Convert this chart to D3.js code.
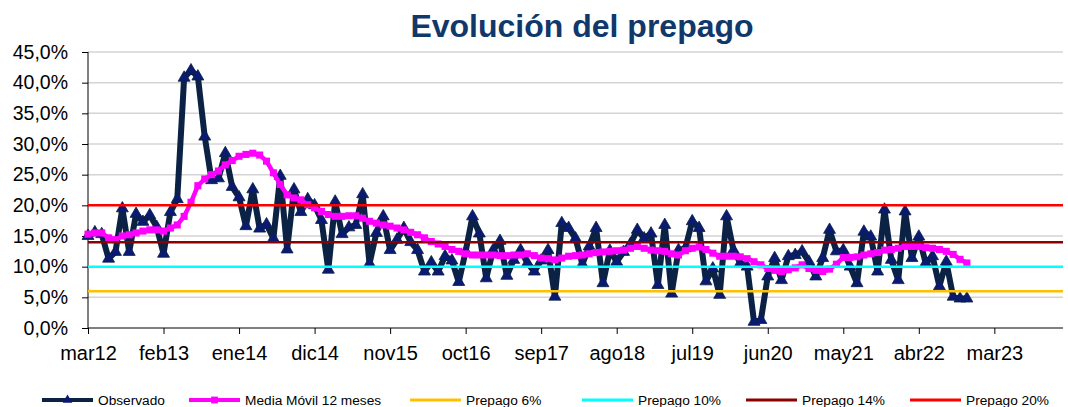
<!DOCTYPE html>
<html lang="es">
<head>
<meta charset="utf-8">
<title>Evolución del prepago</title>
<script src="https://cdn.jsdelivr.net/npm/d3@7"></script>
<style>
  body { margin: 0; background: #fff; }
  svg { font-family: "Liberation Sans", Arial, sans-serif; display: block; }
</style>
</head>
<body>
<div id="chart"></div>
<script>

// months on the category axis: mar12 .. ene24 (143 slots, data fills the first 129)
var nCategories = 143
var tickLabels = ["mar12","feb13","ene14","dic14","nov15","oct16","sep17","ago18","jul19","jun20","may21","abr22","mar23"]
var tickEvery = 11

// observed prepayment, % (mar12 .. nov22)
var observado = [
  15.0, 15.6, 15.3, 11.3, 12.4, 19.5, 12.4, 18.6, 17.3, 18.4,
  16.5, 12.1, 18.9, 21.0, 40.8, 42.0, 41.0, 31.2, 24.1, 24.4,
  28.5, 23.0, 21.3, 16.6, 22.6, 16.2, 16.9, 14.6, 24.8, 12.8,
  22.6, 18.9, 21.0, 20.0, 17.6, 9.5, 20.6, 15.3, 16.4, 16.8,
  21.8, 10.5, 15.5, 18.2, 12.7, 14.4, 16.3, 14.0, 12.7, 9.2,
  10.7, 9.2, 11.7, 11.0, 7.5, 12.5, 18.2, 15.4, 8.1, 12.7,
  14.2, 8.5, 11.1, 12.7, 10.6, 9.2, 11.0, 12.7, 5.1, 17.1,
  16.3, 14.6, 10.4, 13.3, 16.3, 7.3, 12.6, 10.8, 12.4, 13.7,
  16.0, 14.6, 15.4, 7.0, 16.8, 5.6, 12.7, 13.0, 17.4, 16.3,
  7.6, 9.7, 5.4, 18.2, 12.7, 10.6, 10.0, 1.0, 1.3, 8.4,
  11.4, 7.8, 11.7, 11.9, 12.5, 10.8, 8.4, 11.4, 16.0, 12.5,
  12.7, 10.0, 7.3, 15.7, 14.9, 9.2, 19.3, 11.1, 7.8, 19.0,
  11.4, 14.9, 10.6, 11.7, 6.8, 10.8, 5.1, 4.8, 4.8
]

// 12-month moving average, %
var mediaMovil = [
  15.3, 15.5, 15.5, 14.7, 14.4, 15.0, 15.2, 15.5, 15.8, 16.0,
  16.0, 15.8, 16.3, 16.8, 18.2, 20.5, 23.2, 24.3, 25.0, 25.6,
  26.6, 27.3, 28.0, 28.3, 28.5, 28.2, 27.2, 25.3, 23.4, 21.7,
  21.2, 20.9, 20.1, 19.6, 19.0, 18.5, 18.2, 18.2, 18.3, 18.3,
  17.9, 17.4, 17.1, 16.8, 16.6, 16.3, 16.0, 15.6, 15.2, 14.7,
  14.1, 13.7, 13.3, 12.8, 12.5, 12.1, 11.9, 11.9, 11.9, 11.9,
  11.8, 11.8, 11.9, 11.9, 12.1, 11.8, 11.4, 11.3, 11.1, 11.4,
  11.7, 11.8, 11.9, 12.1, 12.3, 12.4, 12.5, 12.6, 12.7, 13.0,
  13.3, 13.0, 12.7, 12.6, 12.5, 12.1, 11.9, 12.6, 13.0, 13.2,
  12.8, 12.2, 11.7, 11.7, 11.7, 11.6, 11.3, 10.8, 10.3, 9.7,
  9.4, 9.2, 9.5, 9.8, 10.3, 9.7, 9.4, 9.2, 9.6, 10.4,
  11.5, 11.5, 11.6, 11.9, 12.1, 12.3, 12.7, 12.8, 13.0, 13.3,
  13.3, 13.3, 13.1, 13.0, 12.8, 12.5, 12.0, 11.2, 10.6
]

// reference prepayment levels, %
var refLevels = [6, 10, 14, 20]
var refNames = ["Prepago 6%", "Prepago 10%", "Prepago 14%", "Prepago 20%"]
var refColors = ["#FFC000", "#00FFFF", "#8B0000", "#FF0000"]

var yTicks = [0, 5, 10, 15, 20, 25, 30, 35, 40, 45]

// --- layout
var width = 1068, height = 407
var plot = { left: 88, right: 1063, top: 52, bottom: 328 }

var svg = d3.select("#chart").append("svg")
    .attr("width", width)
    .attr("height", height)

var x = d3.scaleLinear()
    .domain([0, nCategories - 1])
    .range([plot.left, plot.right])

var y = d3.scaleLinear()
    .domain([0, 45])
    .range([plot.bottom, plot.top])

// title
svg.append("text")
    .attr("x", 582)
    .attr("y", 37)
    .attr("text-anchor", "middle")
    .style("font-size", "32px")
    .style("font-weight", "bold")
    .style("fill", "#10386B")
    .text("Evolución del prepago")

// gridlines
svg.append("g")
  .selectAll("line")
  .data(yTicks.filter(function(d){ return d > 0 }))
  .enter().append("line")
    .attr("x1", plot.left)
    .attr("x2", plot.right)
    .attr("y1", function(d){ return y(d) })
    .attr("y2", function(d){ return y(d) })
    .attr("stroke", "#D4D4D4")
    .attr("stroke-width", 1.5)

// axes
var yAxis = d3.axisLeft(y)
    .tickValues(yTicks)
    .tickFormat(function(d){ return d.toFixed(1).replace(".", ",") + "%" })
    .tickSize(6)
    .tickPadding(14)

var xTickValues = tickLabels.map(function(d, i){ return i * tickEvery })
var xAxis = d3.axisBottom(x)
    .tickValues(xTickValues)
    .tickFormat(function(d, i){ return tickLabels[i] })
    .tickSize(6)
    .tickPadding(12)

var gy = svg.append("g")
    .attr("transform", "translate(" + plot.left + ",0)")
    .call(yAxis)
gy.select(".domain").attr("d", "M0," + plot.top + "V" + plot.bottom)
gy.selectAll("text").style("font-size", "19.5px").style("fill", "#000").attr("font-family", null)

var gx = svg.append("g")
    .attr("transform", "translate(0," + plot.bottom + ")")
    .call(xAxis)
gx.select(".domain").attr("d", "M" + plot.left + ",0H" + plot.right)
gx.selectAll("text").style("font-size", "20px").style("fill", "#000").attr("font-family", null)

// series
var line = d3.line()
    .x(function(d, i){ return x(i) })
    .y(function(d){ return y(d) })

svg.append("path")
    .datum(observado)
    .attr("d", line)
    .attr("fill", "none")
    .attr("stroke", "#0B2245")
    .attr("stroke-width", 6)
    .attr("stroke-linejoin", "round")

var tri = d3.symbol().type(d3.symbolTriangle).size(62)
svg.append("g")
  .selectAll("path")
  .data(observado)
  .enter().append("path")
    .attr("d", tri)
    .attr("transform", function(d, i){ return "translate(" + x(i) + "," + y(d) + ")" })
    .attr("fill", "#0A1A72")
    .attr("stroke", "#0B2245")
    .attr("stroke-width", 0.8)

svg.append("path")
    .datum(mediaMovil)
    .attr("d", line)
    .attr("fill", "none")
    .attr("stroke", "#FF00FF")
    .attr("stroke-width", 4.5)

var sq = d3.symbol().type(d3.symbolSquare).size(50)
svg.append("g")
  .selectAll("path")
  .data(mediaMovil)
  .enter().append("path")
    .attr("d", sq)
    .attr("transform", function(d, i){ return "translate(" + x(i) + "," + y(d) + ")" })
    .attr("fill", "#FF00FF")

// reference levels (constant series over every category)
refLevels.forEach(function(v, k){
  svg.append("path")
      .datum([0, nCategories - 1])
      .attr("d", d3.line().x(function(d){ return x(d) }).y(function(){ return y(v) }))
      .attr("fill", "none")
      .attr("stroke", refColors[k])
      .attr("stroke-width", 2.5)
})

// legend
var legendY = 400
var legendX = [42, 189, 410, 582, 746, 910]
var legendItems = [
  { name: "Observado", color: "#0B2245", w: 4, marker: "tri" },
  { name: "Media Móvil 12 meses", color: "#FF00FF", w: 4, marker: "sq" }
].concat(refNames.map(function(n, k){ return { name: n, color: refColors[k], w: 3 } }))

var lg = svg.append("g").selectAll("g")
  .data(legendItems)
  .enter().append("g")
    .attr("transform", function(d, i){ return "translate(" + legendX[i] + "," + legendY + ")" })

lg.append("line")
    .attr("x1", 0).attr("x2", 51)
    .attr("stroke", function(d){ return d.color })
    .attr("stroke-width", function(d){ return d.w })

lg.filter(function(d){ return d.marker === "tri" })
  .append("path")
    .attr("d", d3.symbol().type(d3.symbolTriangle).size(40))
    .attr("transform", "translate(25.5,0)")
    .attr("fill", "#0A1A72")

lg.filter(function(d){ return d.marker === "sq" })
  .append("path")
    .attr("d", d3.symbol().type(d3.symbolSquare).size(46))
    .attr("transform", "translate(25.5,0)")
    .attr("fill", "#FF00FF")

lg.append("text")
    .attr("x", 56)
    .attr("y", 4.5)
    .style("font-size", "13.7px")
    .style("fill", "#000")
    .text(function(d){ return d.name })

</script>
</body>
</html>
